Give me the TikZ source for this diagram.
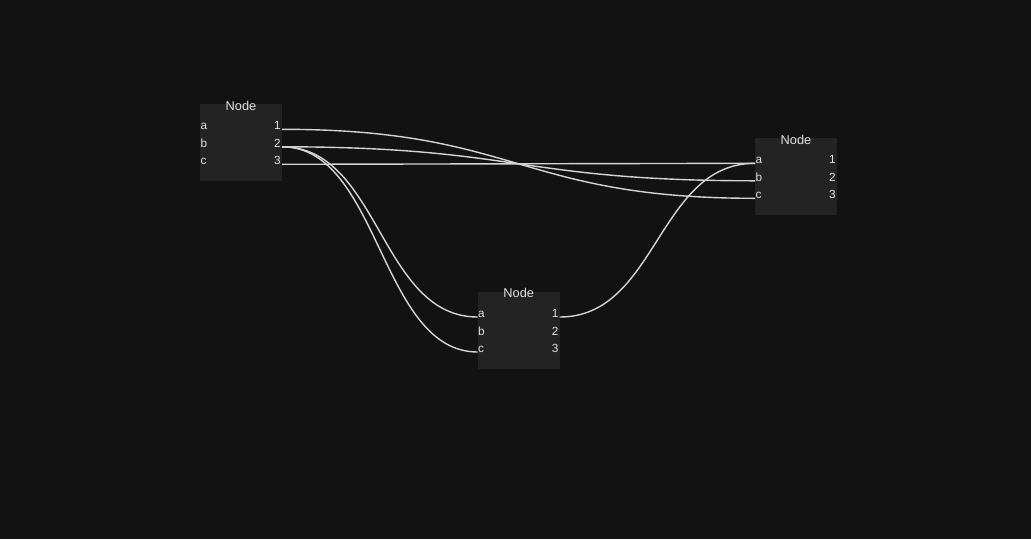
\documentclass[tikz,border=0pt]{standalone}
\usepackage{fontspec}
\setmainfont{Liberation Sans}
\usetikzlibrary{calc}
\definecolor{bgc}{HTML}{121212}
\definecolor{boxc}{HTML}{232323}
\definecolor{wirec}{HTML}{D4D4D4}
\definecolor{txtc}{HTML}{E0E0E0}
\tikzset{
  nodebox/.style={draw=none, fill=boxc, minimum width=82pt, minimum height=77pt, inner sep=0pt, outer sep=0pt, anchor=north west},
  nodetitle/.style={text=txtc, font=\fontsize{12.8}{14}\selectfont, inner sep=0pt, anchor=base},
  portl/.style={text=txtc, font=\fontsize{11.8}{13}\selectfont, inner sep=0pt, anchor=base west},
  portr/.style={text=txtc, font=\fontsize{11.8}{13}\selectfont, inner sep=0pt, anchor=base east},
  wire/.style={draw=wirec, line width=1.4pt}
}
\newcommand\gnode[3]{%
  \node[nodebox] (#1) at (#2,#3) {};
  \node[nodetitle] (#1t) at ($(#1.north)+(0,5.7)$) {Node};
  \coordinate (#1ia) at ($(#1.north west)+(0,25)$);
  \coordinate (#1ib) at ($(#1.north west)+(0,42.5)$);
  \coordinate (#1ic) at ($(#1.north west)+(0,60)$);
  \coordinate (#1oa) at ($(#1.north east)+(0,25)$);
  \coordinate (#1ob) at ($(#1.north east)+(0,42.5)$);
  \coordinate (#1oc) at ($(#1.north east)+(0,60)$);
  \node[portl] (#1la) at ($(#1ia)+(0.3,0.6)$) {a};
  \node[portl] (#1lb) at ($(#1ib)+(0.3,0.6)$) {b};
  \node[portl] (#1lc) at ($(#1ic)+(0.3,0.6)$) {c};
  \node[portr] (#1l1) at ($(#1oa)+(-1,0.6)$) {1};
  \node[portr] (#1l2) at ($(#1ob)+(-1,0.6)$) {2};
  \node[portr] (#1l3) at ($(#1oc)+(-1,0.6)$) {3};
}
\newcommand\gwire[2]{%
  \path ($(#1)!0.5!(#2)$) coordinate (wm);
  \draw[wire] (#1) .. controls (#1 -| wm) and (#2 -| wm) .. (#2);
}
\begin{document}
\begin{tikzpicture}[x=1pt,y=-1pt]
  \fill[bgc] (0,0) rectangle (1031,539);
  \useasboundingbox (0,0) rectangle (1031,539);
  \gnode{A}{200}{104.3}
  \gnode{B}{755}{138.3}
  \gnode{C}{477.7}{292}
  \gwire{Aoa}{Bic}
  \gwire{Aob}{Bib}
  \gwire{Aoc}{Bia}
  \gwire{Aob}{Cia}
  \gwire{Aob}{Cic}
  \gwire{Coa}{Bia}
\end{tikzpicture}
\end{document}
